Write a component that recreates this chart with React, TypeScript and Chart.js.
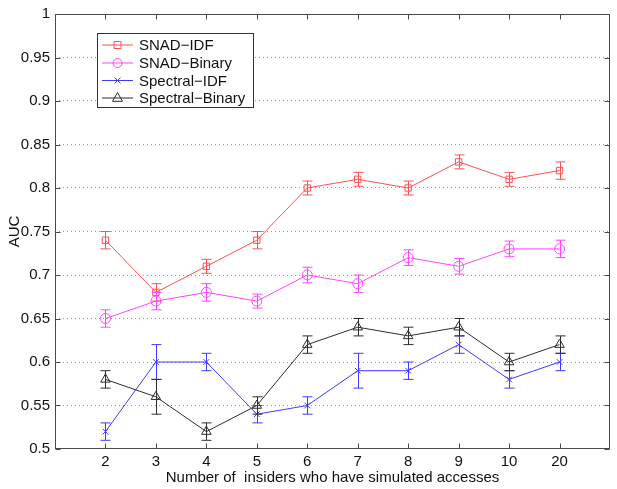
import React, { useEffect, useRef } from "react";
import { Chart, registerables } from "chart.js";

Chart.register(...registerables);

const categories = ["2", "3", "4", "5", "6", "7", "8", "9", "10", "20"];
const snadIdf = [0.74, 0.68, 0.71, 0.74, 0.8, 0.81, 0.8, 0.83, 0.81, 0.82];
const snadIdfErr = [0.01, 0.01, 0.008, 0.01, 0.008, 0.008, 0.008, 0.008, 0.008, 0.01];
const snadBinary = [0.65, 0.67, 0.68, 0.67, 0.7, 0.69, 0.72, 0.71, 0.73, 0.73];
const snadBinaryErr = [0.01, 0.01, 0.01, 0.008, 0.009, 0.01, 0.009, 0.009, 0.009, 0.01];
const spectralIdf = [0.52, 0.6, 0.6, 0.54, 0.55, 0.59, 0.59, 0.62, 0.58, 0.6];
const spectralIdfErr = [0.01, 0.02, 0.01, 0.01, 0.01, 0.02, 0.01, 0.01, 0.01, 0.01];
const spectralBinary = [0.58, 0.56, 0.52, 0.55, 0.62, 0.64, 0.63, 0.64, 0.6, 0.62];
const spectralBinaryErr = [0.01, 0.02, 0.01, 0.01, 0.01, 0.01, 0.01, 0.01, 0.01, 0.01];
const yTicks = [0.5, 0.55, 0.6, 0.65, 0.7, 0.75, 0.8, 0.85, 0.9, 0.95, 1];

const FONT = "'Liberation Sans', Arial, Helvetica, sans-serif";
const FONT_SIZE = 15;
const AXIS_COLOR = "#4a4a4a";

const seriesDefs = [
  { label: "SNAD\u2212IDF", values: snadIdf, err: snadIdfErr, color: "rgb(255,80,80)", style: "rect", radius: 4.5 },
  { label: "SNAD\u2212Binary", values: snadBinary, err: snadBinaryErr, color: "rgb(255,70,255)", style: "circle", radius: 5 },
  { label: "Spectral\u2212IDF", values: spectralIdf, err: spectralIdfErr, color: "rgb(60,60,255)", style: "crossRot", radius: 4 },
  { label: "Spectral\u2212Binary", values: spectralBinary, err: spectralBinaryErr, color: "rgb(45,45,45)", style: "triangle", radius: 5.5 },
];

const errorBarPlugin = {
  id: "errorBars",
  afterDatasetsDraw(chart: any) {
    const { ctx, scales } = chart;
    const xs = scales.x;
    const ys = scales.y;
    ctx.save();
    seriesDefs.forEach((s) => {
      ctx.strokeStyle = s.color;
      ctx.lineWidth = 1;
      s.values.forEach((v, i) => {
        const px = Math.round(xs.getPixelForValue(i + 1)) + 0.5;
        const top = ys.getPixelForValue(v + s.err[i]);
        const bot = ys.getPixelForValue(v - s.err[i]);
        ctx.beginPath();
        ctx.moveTo(px, top);
        ctx.lineTo(px, bot);
        ctx.moveTo(px - 5, top);
        ctx.lineTo(px + 5, top);
        ctx.moveTo(px - 5, bot);
        ctx.lineTo(px + 5, bot);
        ctx.stroke();
      });
    });
    ctx.restore();
  },
};

function drawMarker(ctx: CanvasRenderingContext2D, style: string, r: number, x: number, y: number, color: string) {
  ctx.save();
  ctx.strokeStyle = color;
  ctx.lineWidth = 1;
  ctx.beginPath();
  if (style === "rect") {
    const h = 3.5;
    ctx.rect(x - h, y - h, 2 * h, 2 * h);
  } else if (style === "circle") {
    ctx.arc(x, y, r - 0.5, 0, Math.PI * 2);
  } else if (style === "crossRot") {
    const h = r * 0.75;
    ctx.moveTo(x - h, y - h);
    ctx.lineTo(x + h, y + h);
    ctx.moveTo(x - h, y + h);
    ctx.lineTo(x + h, y - h);
  } else if (style === "triangle") {
    ctx.moveTo(x, y - r);
    ctx.lineTo(x + r * 0.9, y + r * 0.6);
    ctx.lineTo(x - r * 0.9, y + r * 0.6);
    ctx.closePath();
  }
  ctx.stroke();
  ctx.restore();
}

const boxPlugin = {
  id: "box",
  afterDraw(chart: any) {
    const { ctx, chartArea, scales } = chart;
    const { left, right, top, bottom } = chartArea;
    ctx.save();
    ctx.strokeStyle = AXIS_COLOR;
    ctx.lineWidth = 1;
    const l = Math.round(left) + 0.5;
    const r = Math.round(right) - 0.5;
    const t = Math.round(top) + 0.5;
    const b = Math.round(bottom) - 0.5;
    ctx.strokeRect(l, t, r - l, b - t);
    ctx.beginPath();
    for (let i = 1; i <= categories.length; i++) {
      const px = Math.round(scales.x.getPixelForValue(i)) + 0.5;
      ctx.moveTo(px, b);
      ctx.lineTo(px, b - 5);
      ctx.moveTo(px, t);
      ctx.lineTo(px, t + 5);
    }
    yTicks.forEach((v) => {
      const py = Math.round(scales.y.getPixelForValue(v)) + 0.5;
      ctx.moveTo(l, py);
      ctx.lineTo(l + 5, py);
      ctx.moveTo(r, py);
      ctx.lineTo(r - 5, py);
    });
    ctx.stroke();

    // legend
    const lx = 97.5, ly = 33.5, lw = 156, lh = 74;
    ctx.fillStyle = "#fff";
    ctx.fillRect(lx, ly, lw, lh);
    ctx.strokeStyle = "#333";
    ctx.strokeRect(lx, ly, lw, lh);
    ctx.font = `${FONT_SIZE}px ${FONT}`;
    ctx.textBaseline = "middle";
    ctx.textAlign = "left";
    const rows = [45, 63, 80.5, 98];
    seriesDefs.forEach((s, i) => {
      const y = rows[i];
      ctx.strokeStyle = s.color;
      ctx.lineWidth = 1;
      ctx.beginPath();
      ctx.moveTo(102, y);
      ctx.lineTo(133, y);
      ctx.stroke();
      drawMarker(ctx, s.style, s.radius, 117.5, y, s.color);
      ctx.fillStyle = "#111";
      ctx.fillText(s.label, 139, y + 1);
    });
    ctx.restore();
  },
};

export default function App() {
  const ref = useRef<HTMLCanvasElement | null>(null);
  useEffect(() => {
    if (!ref.current) return;
    const chart = new Chart(ref.current, {
      type: "line",
      data: {
        datasets: seriesDefs.map((s) => ({
          label: s.label,
          data: s.values.map((v, i) => ({ x: i + 1, y: v })),
          borderColor: s.color,
          backgroundColor: "rgba(0,0,0,0)",
          borderWidth: 1,
          pointStyle: s.style as any,
          pointRadius: s.radius,
          pointBorderColor: s.color,
          pointBackgroundColor: "rgba(0,0,0,0)",
          pointBorderWidth: 1,
          tension: 0,
        })),
      },
      options: {
        animation: false,
        responsive: false,
        maintainAspectRatio: false,
        layout: { padding: { left: 0, top: 10, right: 7, bottom: 0 } },
        plugins: { legend: { display: false }, tooltip: { enabled: false } },
        scales: {
          x: {
            type: "linear",
            min: 0,
            max: 11,
            afterFit: (s: any) => { s.height = 40; },
            afterBuildTicks: (s: any) => {
              s.ticks = categories.map((_, i) => ({ value: i + 1 }));
            },
            ticks: {
              autoSkip: false,
              maxRotation: 0,
              padding: 4,
              color: "#111",
              font: { family: FONT, size: FONT_SIZE },
              callback: (v: any) => categories[Number(v) - 1] ?? "",
            },
            grid: { display: false, drawTicks: false },
            border: { display: false },
            title: {
              display: true,
              text: "Number of  insiders who have simulated accesses",
              color: "#111",
              font: { family: FONT, size: FONT_SIZE },
              padding: { top: 0, bottom: 2 },
            },
          },
          y: {
            min: 0.5,
            max: 1,
            afterFit: (s: any) => { s.width = 55; },
            afterBuildTicks: (s: any) => {
              s.ticks = yTicks.map((v) => ({ value: v }));
            },
            ticks: {
              padding: 5,
              color: "#111",
              font: { family: FONT, size: FONT_SIZE },
              callback: (v: any) => String(Number(Number(v).toFixed(2))),
            },
            grid: {
              drawTicks: false,
              color: (c: any) => (c.tick && (c.tick.value === 0.5 || c.tick.value === 1) ? "rgba(0,0,0,0)" : "#9a9a9a"),
              lineWidth: 1,
            },
            border: { display: false, dash: [1, 3] },
            title: {
              display: true,
              text: "AUC",
              color: "#111",
              font: { family: FONT, size: FONT_SIZE },
              padding: { top: 6, bottom: 0 },
            },
          },
        },
      },
      plugins: [errorBarPlugin, boxPlugin],
    } as any);
    return () => chart.destroy();
  }, []);
  return (
    <div style={{ position: "absolute", left: 0, top: 0, width: 617, height: 489, background: "#fff" }}>
      <canvas ref={ref} width={617} height={489} style={{ display: "block", width: 617, height: 489 }} />
    </div>
  );
}
